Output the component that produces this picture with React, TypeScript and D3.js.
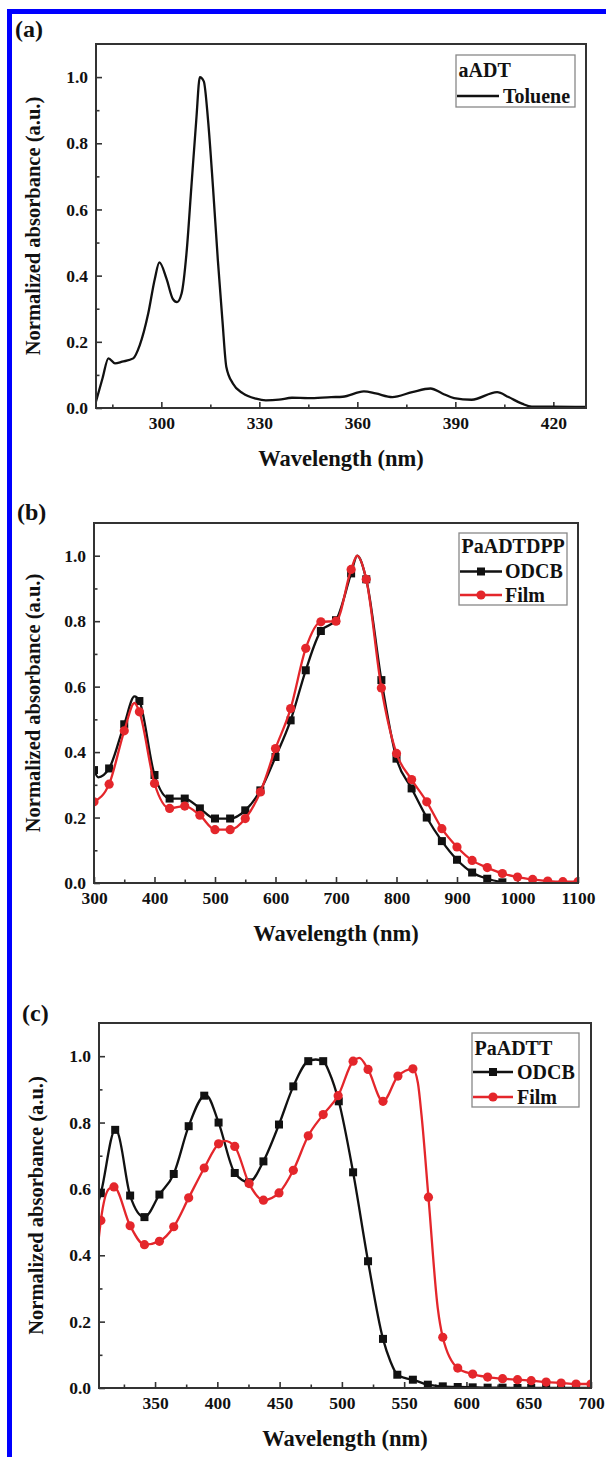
import React, { useEffect, useRef } from "react";
import * as d3 from "d3";

const W = 606;
const H = 1457;
const RED = "#e4262b";
const INK = "#111";
const FRAME = "#333";
const FONT = "Liberation Serif, Times New Roman, serif";

// ---- (a) aADT, toluene solution: [wavelength nm, normalized absorbance]
const aToluene: [number, number][] = [
  [280, 0.02], [282, 0.09], [283.8, 0.15], [285.8, 0.135], [288, 0.14], [291.4, 0.15],
  [293.4, 0.19], [296, 0.286], [298, 0.39], [299.4, 0.44], [301.6, 0.39], [303.5, 0.33],
  [304.8, 0.32], [306.2, 0.346], [307.7, 0.467], [309.2, 0.669], [310.7, 0.871], [311.8, 1.0],
  [313, 0.987], [314.3, 0.87], [315.8, 0.669], [317.3, 0.447], [318.7, 0.265], [319.9, 0.124],
  [321.9, 0.074], [325, 0.044], [329, 0.028], [332, 0.023], [336, 0.025], [340, 0.031],
  [345, 0.03], [352, 0.033], [355.5, 0.034], [362, 0.05], [365.6, 0.044], [370.7, 0.033],
  [376.8, 0.048], [382.4, 0.059], [386, 0.044], [389.6, 0.03], [395, 0.025], [402.8, 0.048],
  [406.3, 0.033], [410.4, 0.013], [413.4, 0.004], [419.5, 0.004], [430, 0.003],
];

// ---- (b) PaADTDPP, marker points + extra points that only shape the line
const bOdcb: [number, number][] = [
  [300, 0.345], [325, 0.35], [350, 0.485], [375, 0.556], [400, 0.33], [425, 0.258],
  [450, 0.258], [475, 0.228], [500, 0.197], [525, 0.197], [550, 0.222], [575, 0.283],
  [600, 0.385], [625, 0.497], [650, 0.65], [675, 0.77], [700, 0.803], [725, 0.946],
  [750, 0.928], [775, 0.62], [800, 0.38], [825, 0.289], [850, 0.2], [875, 0.128],
  [900, 0.071], [925, 0.032], [950, 0.013], [975, 0.002],
];
const bOdcbExtra: [number, number][] = [[307, 0.323], [367, 0.57], [735, 1.0]];
const bFilm: [number, number][] = [
  [300, 0.248], [325, 0.302], [350, 0.465], [375, 0.523], [400, 0.304], [425, 0.228],
  [450, 0.235], [475, 0.207], [500, 0.163], [525, 0.163], [550, 0.197], [575, 0.278],
  [600, 0.411], [625, 0.533], [650, 0.717], [675, 0.798], [700, 0.8], [725, 0.958],
  [750, 0.928], [775, 0.596], [800, 0.396], [825, 0.316], [850, 0.248], [875, 0.166],
  [900, 0.11], [925, 0.069], [950, 0.047], [975, 0.029], [1000, 0.018], [1025, 0.011],
  [1050, 0.006], [1075, 0.004], [1100, 0.004],
];
const bFilmExtra: [number, number][] = [[367, 0.55], [735, 1.0]];

// ---- (c) PaADTT
const cOdcb: [number, number][] = [
  [306.5, 0.587], [318, 0.778], [330, 0.58], [341.5, 0.515], [353.5, 0.583], [365, 0.645],
  [377, 0.789], [389.5, 0.881], [401, 0.8], [414, 0.648], [425.5, 0.62], [437, 0.683],
  [449.5, 0.794], [461, 0.909], [473, 0.985], [485, 0.985], [497.5, 0.864], [509, 0.65],
  [521, 0.382], [533, 0.148], [544.5, 0.04], [557, 0.025], [569, 0.01], [581, 0.005],
  [593, 0.003], [605, 0.002], [617, 0.001], [629, 0.001], [641, 0.0], [652, 0.0],
  [664, 0.0], [676, 0.0], [688, 0.0], [700, 0.0],
];
const cOdcbExtra: [number, number][] = [
  [304.5, 0.56], [320, 0.77], [391, 0.882], [479, 0.99], [490, 0.95], [539, 0.08], [551, 0.03],
];
const cFilm: [number, number][] = [
  [306.5, 0.505], [317, 0.606], [330, 0.489], [341.5, 0.432], [353.5, 0.442], [365, 0.486],
  [377, 0.573], [389.5, 0.663], [401, 0.736], [414, 0.728], [425.5, 0.616], [437, 0.566],
  [449.5, 0.588], [461, 0.656], [473, 0.76], [485, 0.824], [497, 0.881], [509, 0.985],
  [521, 0.96], [533, 0.864], [545, 0.94], [557, 0.962], [569.5, 0.575], [581, 0.153],
  [593, 0.06], [605, 0.042], [617, 0.033], [629, 0.028], [641, 0.025], [652, 0.022],
  [664, 0.018], [676, 0.015], [688, 0.012], [700, 0.012],
];
const cFilmExtra: [number, number][] = [
  [304.5, 0.44], [313, 0.6], [406, 0.745], [514, 0.995], [561, 0.92], [564, 0.82], [577, 0.24],
];

// ticks
const yMajor = [0, 0.2, 0.4, 0.6, 0.8, 1.0];
const yMinor = [0.1, 0.3, 0.5, 0.7, 0.9];
const aXMajor = [300, 330, 360, 390, 420];
const aXMinor = [285, 315, 345, 375, 405];
const bXMajor = [300, 400, 500, 600, 700, 800, 900, 1000, 1100];
const bXMinor = [350, 450, 550, 650, 750, 850, 950, 1050];
const cXMajor = [350, 400, 450, 500, 550, 600, 650, 700];
const cXMinor = [325, 375, 425, 475, 525, 575, 625, 675];

type Pt = [number, number];
type Series = { name: string; color: string; marker: "none" | "square" | "circle"; points: Pt[]; extra: Pt[] };

const panels = [
  {
    id: "a", tag: "(a)", tagX: 15, tagY: 37,
    left: 96, right: 586, top: 44, bottom: 408, yTitleX: 40,
    xDomain: [280, 430], xMajor: aXMajor, xMinor: aXMinor,
    legend: { x: 456, y: 55, w: 119, h: 52, title: "aADT", titleY: 77, rowY: [96], lineX: [457, 499], textX: 503 },
    series: [{ name: "Toluene", color: INK, marker: "none", points: aToluene, extra: [] }] as Series[],
  },
  {
    id: "b", tag: "(b)", tagX: 17, tagY: 520,
    left: 94, right: 578, top: 523, bottom: 883, yTitleX: 40,
    xDomain: [300, 1100], xMajor: bXMajor, xMinor: bXMinor,
    legend: { x: 459, y: 533, w: 108, h: 72, title: "PaADTDPP", titleY: 553, rowY: [571.5, 595], lineX: [460, 502], textX: 505 },
    series: [
      { name: "ODCB", color: INK, marker: "square", points: bOdcb, extra: bOdcbExtra },
      { name: "Film", color: RED, marker: "circle", points: bFilm, extra: bFilmExtra },
    ] as Series[],
  },
  {
    id: "c", tag: "(c)", tagX: 22, tagY: 1021,
    left: 99, right: 591, top: 1023, bottom: 1388, yTitleX: 43,
    xDomain: [305, 700], xMajor: cXMajor, xMinor: cXMinor,
    legend: { x: 472, y: 1033, w: 107, h: 74, title: "PaADTT", titleY: 1055, rowY: [1072, 1097], lineX: [473, 513], textX: 517 },
    series: [
      { name: "ODCB", color: INK, marker: "square", points: cOdcb, extra: cOdcbExtra },
      { name: "Film", color: RED, marker: "circle", points: cFilm, extra: cFilmExtra },
    ] as Series[],
  },
];

function drawMarker(sel: any, kind: string, color: string, cx: number, cy: number) {
  if (kind === "square") {
    sel.append("rect").attr("x", cx - 4).attr("y", cy - 4).attr("width", 8).attr("height", 8).attr("fill", color);
  } else if (kind === "circle") {
    sel.append("circle").attr("cx", cx).attr("cy", cy).attr("r", 4.6).attr("fill", color);
  }
}

const App = () => {
  const svgRef = useRef<SVGSVGElement>(null);

  useEffect(() => {
    const svg = d3.select(svgRef.current);
    svg.selectAll("*").remove();

    svg.append("rect").attr("width", W).attr("height", H).attr("fill", "white");
    // blue frame (top and left edges only are in view)
    svg.append("rect").attr("x", 7).attr("y", 9).attr("width", W - 7).attr("height", 5).attr("fill", "#0000ff");
    svg.append("rect").attr("x", 7).attr("y", 9).attr("width", 5).attr("height", H - 9).attr("fill", "#0000ff");

    panels.forEach((p) => {
      const g = svg.append("g");
      const x = d3.scaleLinear().domain(p.xDomain).range([p.left, p.right]);
      const y = d3.scaleLinear().domain([0, 1.1]).range([p.bottom, p.top]);

      svg.append("clipPath").attr("id", `clip-${p.id}`)
        .append("rect").attr("x", p.left).attr("y", p.top)
        .attr("width", p.right - p.left).attr("height", p.bottom - p.top);

      // axes: inward ticks on left and bottom only
      const styleAxis = (a: any) => {
        a.select(".domain").remove();
        a.attr("font-family", FONT).attr("font-size", 17.5).attr("font-weight", "bold");
        a.selectAll("line").attr("stroke", FRAME).attr("stroke-width", 1.6);
        a.selectAll("text").attr("fill", INK);
      };
      g.append("g").attr("transform", `translate(${p.left},0)`)
        .call(d3.axisLeft(y).tickValues(yMajor).tickSize(-6).tickPadding(8).tickFormat(d3.format(".1f")))
        .call(styleAxis);
      g.append("g").attr("transform", `translate(${p.left},0)`)
        .call(d3.axisLeft(y).tickValues(yMinor).tickSize(-3.5).tickFormat(() => ""))
        .call(styleAxis);
      g.append("g").attr("transform", `translate(0,${p.bottom})`)
        .call(d3.axisBottom(x).tickValues(p.xMajor).tickSize(-6).tickPadding(9).tickFormat(d3.format("d")))
        .call(styleAxis);
      g.append("g").attr("transform", `translate(0,${p.bottom})`)
        .call(d3.axisBottom(x).tickValues(p.xMinor).tickSize(-3.5).tickFormat(() => ""))
        .call(styleAxis);

      // data
      const plot = g.append("g").attr("clip-path", `url(#clip-${p.id})`);
      const line = d3.line<Pt>().x((d) => x(d[0])).y((d) => y(d[1])).curve(d3.curveMonotoneX);
      p.series.forEach((s) => {
        const all = [...s.points, ...s.extra].sort((m, n) => m[0] - n[0]);
        plot.append("path").datum(all).attr("fill", "none").attr("stroke", s.color)
          .attr("stroke-width", 2.3).attr("stroke-linejoin", "round").attr("d", line);
        s.points.forEach((d) => {
          if (s.marker !== "none") drawMarker(plot, s.marker, s.color, x(d[0]), y(d[1]));
        });
      });

      // plot frame
      g.append("rect").attr("x", p.left).attr("y", p.top)
        .attr("width", p.right - p.left).attr("height", p.bottom - p.top)
        .attr("fill", "none").attr("stroke", FRAME).attr("stroke-width", 2);

      // titles
      g.append("text").attr("x", (p.left + p.right) / 2).attr("y", p.bottom + 58)
        .attr("text-anchor", "middle").attr("font-family", FONT).attr("font-weight", "bold")
        .attr("font-size", 22.5).attr("fill", INK).text("Wavelength (nm)");
      g.append("text")
        .attr("transform", `translate(${p.yTitleX},${(p.top + p.bottom) / 2}) rotate(-90)`)
        .attr("text-anchor", "middle").attr("font-family", FONT).attr("font-weight", "bold")
        .attr("font-size", 20.5).attr("fill", INK).text("Normalized absorbance (a.u.)");
      g.append("text").attr("x", p.tagX).attr("y", p.tagY).attr("font-family", FONT)
        .attr("font-weight", "bold").attr("font-size", 24).attr("fill", INK).text(p.tag);

      // legend
      const L = p.legend;
      const lg = g.append("g").attr("font-family", FONT).attr("font-weight", "bold").attr("font-size", 20).attr("fill", INK);
      lg.append("rect").attr("x", L.x).attr("y", L.y).attr("width", L.w).attr("height", L.h)
        .attr("fill", "white").attr("stroke", "#888").attr("stroke-width", 1.3);
      lg.append("text").attr("x", L.x + 2.5).attr("y", L.titleY).text(L.title);
      p.series.forEach((s, i) => {
        const ry = L.rowY[i];
        lg.append("line").attr("x1", L.lineX[0]).attr("x2", L.lineX[1]).attr("y1", ry).attr("y2", ry)
          .attr("stroke", s.color).attr("stroke-width", 2.3);
        drawMarker(lg, s.marker, s.color, (L.lineX[0] + L.lineX[1]) / 2, ry);
        lg.append("text").attr("x", L.textX).attr("y", ry + 6.5).text(s.name);
      });
    });
  }, []);

  return (
    <div style={{ position: "absolute", left: 0, top: 0, width: W, height: H, background: "white" }}>
      <svg ref={svgRef} width={W} height={H} style={{ display: "block" }} />
    </div>
  );
};

export default App;
